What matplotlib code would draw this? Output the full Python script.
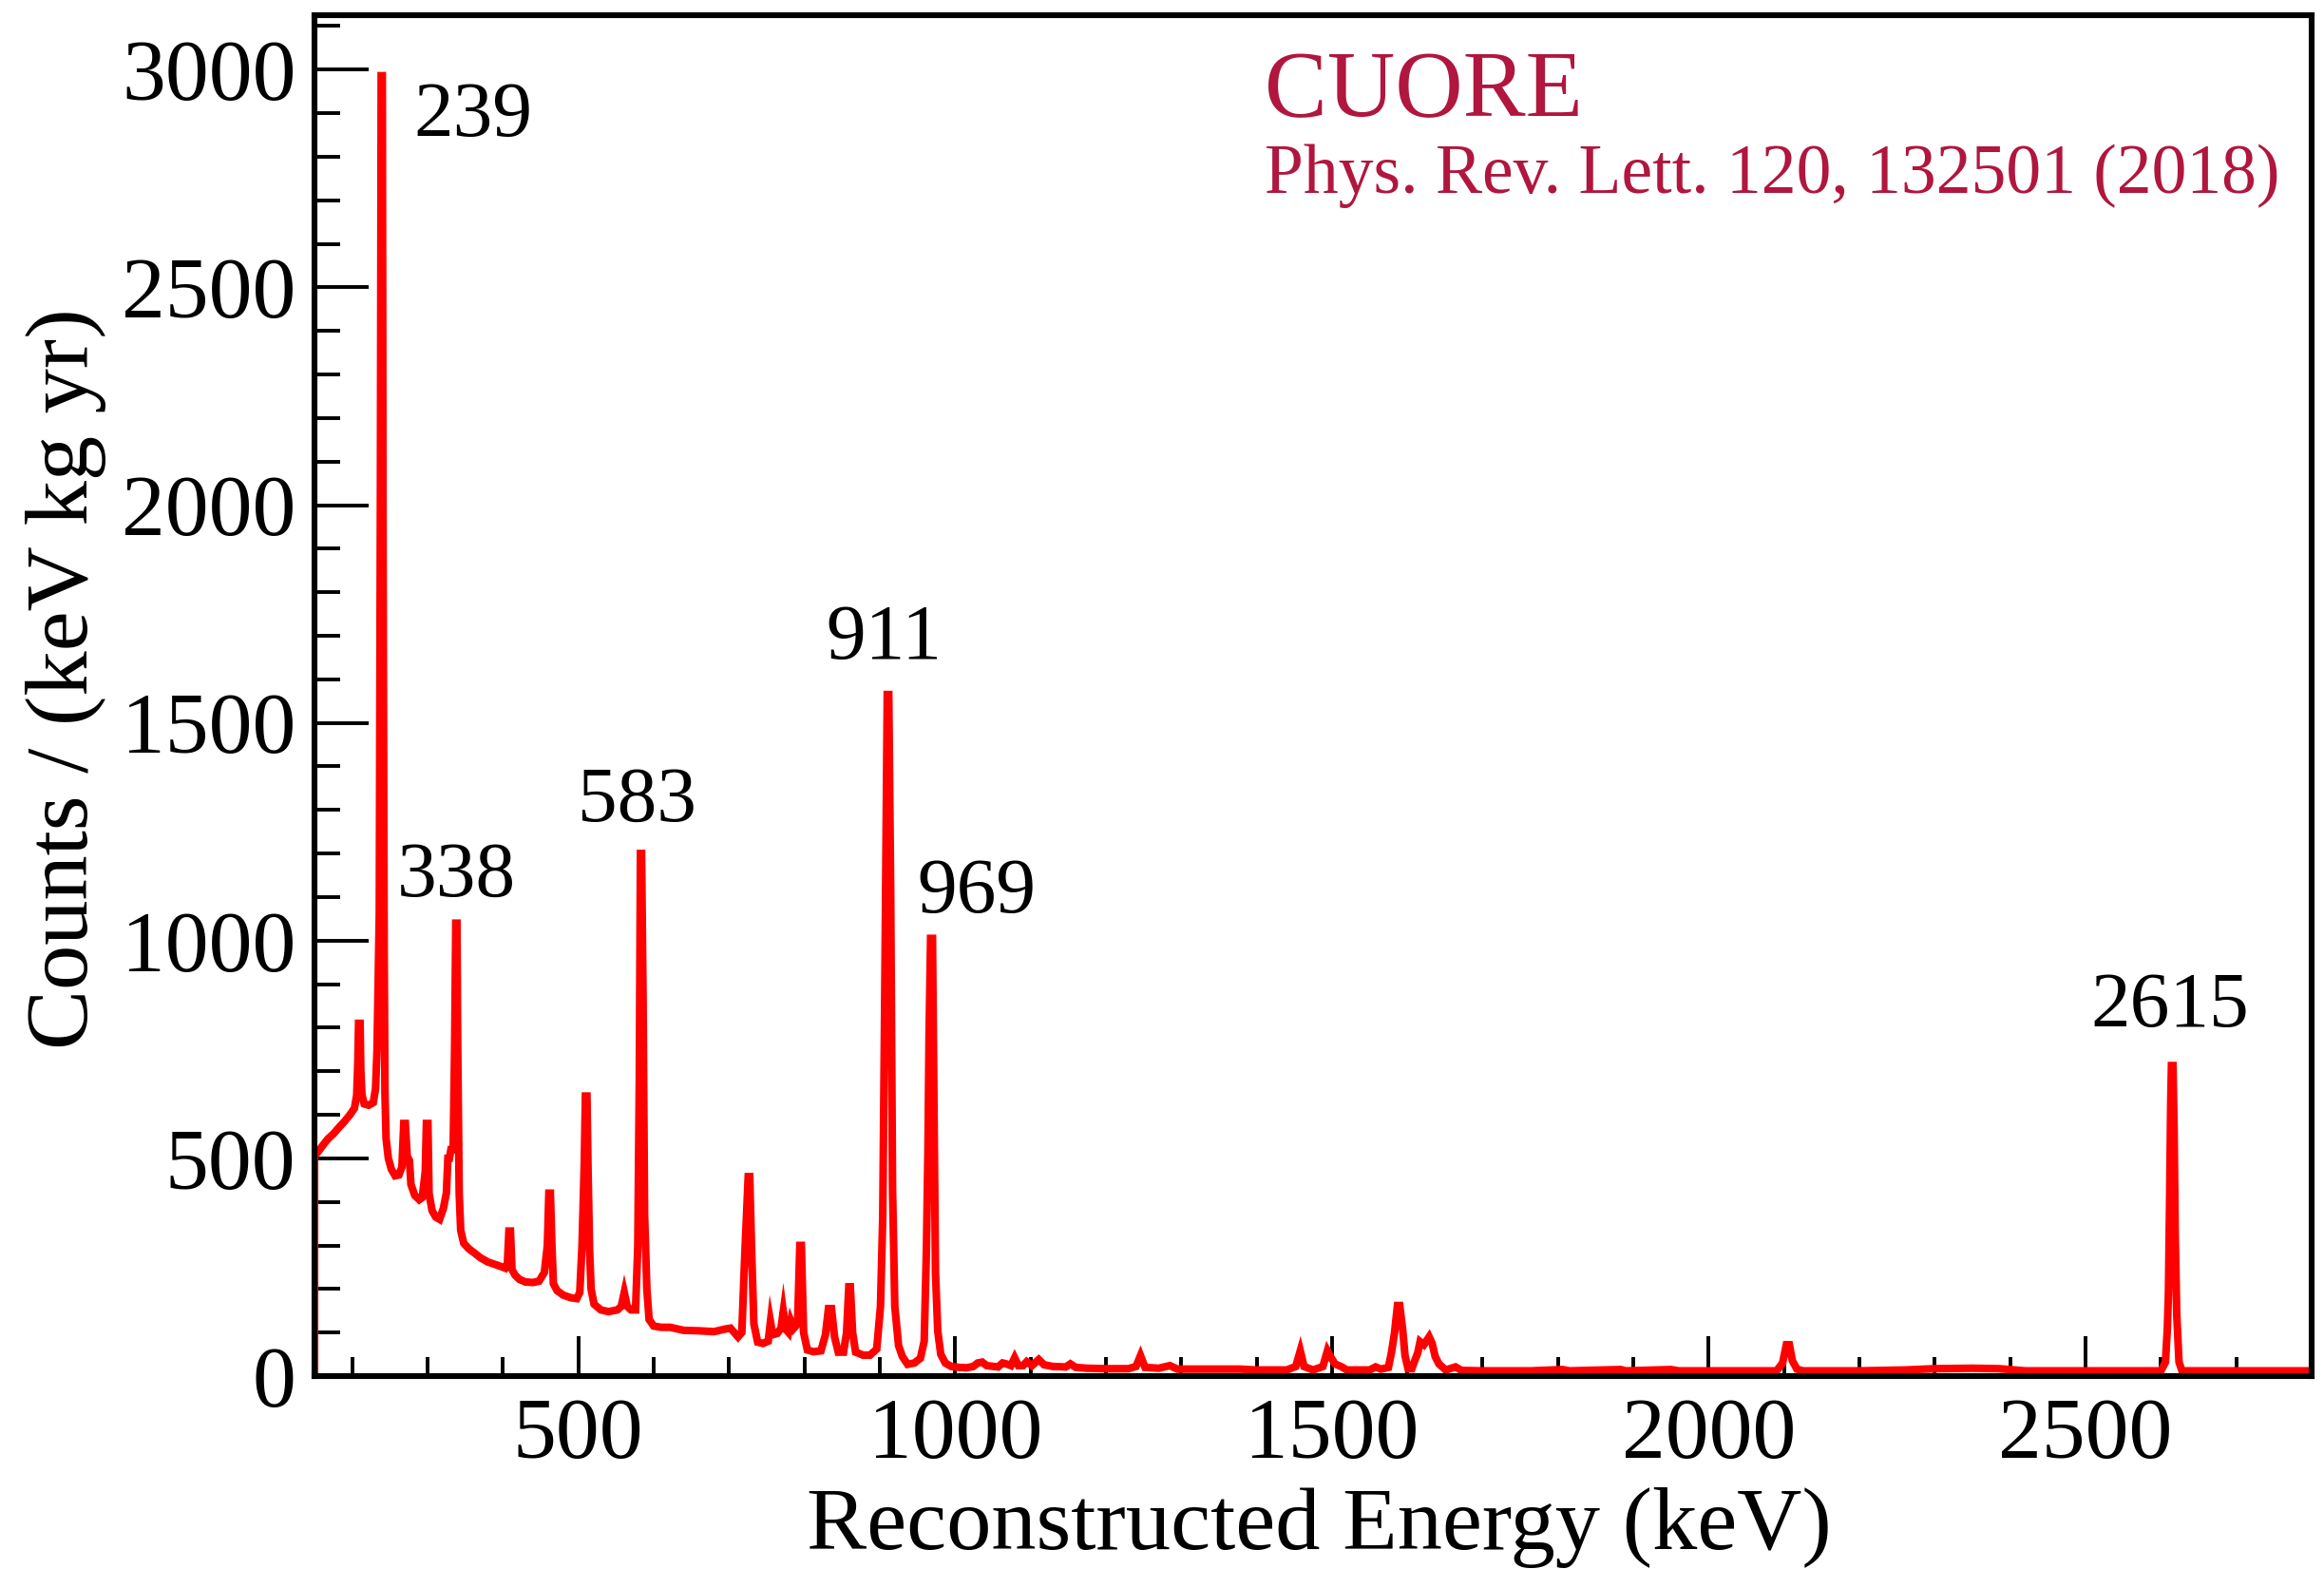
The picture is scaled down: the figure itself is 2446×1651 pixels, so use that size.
import matplotlib
matplotlib.use('Agg')
import matplotlib.pyplot as plt
from matplotlib.ticker import MultipleLocator

plt.rcParams['font.family'] = ['Liberation Serif', 'DejaVu Serif']

# spectrum: energy (keV), counts / (keV kg yr)
energy = [150, 150, 156, 162, 168, 175, 182, 190, 197, 203, 206, 207.5, 208.5, 210.5, 211.5, 213,
          216, 222, 228, 231, 233, 236, 237.5, 238.5, 240, 241, 242.5, 243.5, 245, 248, 252,
          257, 262, 266, 268.5, 270.5, 273, 276, 278, 283, 289, 293, 297, 298.5, 300.5, 302,
          306, 311, 316, 321, 325, 327, 329, 331, 334, 336, 337.5, 339, 340, 342, 344, 348,
          355, 362, 370, 380, 392, 403, 406, 408, 410, 412, 416, 422, 430, 440, 448, 455,
          459, 461, 463, 465, 467, 472, 480, 490, 498, 502, 505, 508, 509.5, 511.5, 513, 515,
          517, 521, 530, 540, 552, 557, 561, 565, 570, 576, 579, 581, 582.5, 584, 586, 588,
          591, 594, 600, 610, 622, 640, 660, 680, 695, 702, 708, 712, 717, 721, 725.5, 727.5,
          730, 733, 738, 745, 752, 755, 758, 764, 769, 772, 775, 779, 782, 786, 791, 794,
          796, 799, 804, 812, 822, 828, 832, 836, 840, 845, 852, 856, 859, 861, 864, 868,
          878, 887, 896, 901, 904, 907, 910, 912, 914.5, 917, 920, 925, 930, 937, 946, 954,
          959, 962, 964, 965.5, 967.5, 970, 972, 974, 977, 981, 987, 995, 1005, 1015, 1024,
          1030, 1036, 1042, 1057, 1063, 1068, 1074, 1079, 1084, 1090, 1095, 1102, 1111, 1118,
          1130, 1147, 1153, 1160, 1175, 1200, 1230, 1240, 1246, 1252, 1270, 1285, 1295, 1330,
          1378, 1400, 1440, 1452, 1458, 1463, 1475, 1488, 1494, 1498, 1504, 1512, 1520, 1550,
          1558, 1565, 1575, 1579, 1583, 1587, 1590, 1594, 1597, 1601, 1606, 1611, 1614, 1617,
          1622, 1629, 1633, 1637, 1642, 1651, 1664, 1672, 1700, 1764, 1806, 1815, 1883, 1890,
          1950, 1960, 2000, 2090, 2098, 2103, 2107, 2111, 2117, 2125, 2200, 2260, 2300, 2350,
          2385, 2420, 2600, 2606, 2608.5, 2610, 2611.5, 2613, 2614, 2616, 2617.5, 2619, 2621,
          2624, 2628, 2800]
counts = [0, 505, 518, 532, 545, 556, 570, 585, 600, 615, 645, 720, 810, 810, 700, 645,
          625, 622, 628, 660, 750, 1060, 2045, 2986, 2986, 1890, 970, 650, 545, 500, 475,
          460, 462, 480, 580, 580, 505, 495, 440, 415, 405, 410, 470, 580, 580, 420,
          380, 365, 360, 385, 420, 500, 500, 520, 520, 760, 1040, 1040, 760, 420, 335, 305,
          292, 283, 272, 262, 255, 248, 260, 333, 333, 245, 232, 222, 216, 215, 218, 238,
          300, 420, 420, 300, 212, 196, 186, 180, 178, 192, 300, 490, 643, 643, 470, 290,
          200, 165, 152, 148, 152, 160, 192, 160, 152, 152, 300, 680, 1200, 1200, 860, 370,
          200, 130, 115, 112, 112, 105, 104, 102, 108, 110, 98, 90, 100, 280, 458, 458,
          290, 120, 78, 75, 80, 125, 95, 98, 110, 148, 108, 100, 127, 110, 120, 300,
          300, 100, 60, 56, 58, 95, 155, 155, 90, 55, 55, 100, 205, 205, 100, 55,
          48, 48, 62, 160, 366, 940, 1565, 1565, 1117, 430, 160, 70, 45, 27, 30, 41,
          80, 293, 520, 786, 1005, 1005, 624, 237, 103, 50, 30, 22, 20, 19, 22,
          30, 32, 24, 21, 30, 28, 24, 42, 24, 24, 33, 24, 38, 26,
          22, 21, 28, 20, 18, 17, 17, 22, 47, 20, 18, 24, 16, 16,
          16, 14, 14, 22, 58, 22, 14, 22, 58, 45, 28, 22, 14, 14,
          21, 16, 20, 54, 98, 162, 162, 105, 47, 17, 17, 40, 54, 79,
          72, 90, 75, 45, 28, 14, 21, 13, 12, 12, 15, 12, 15, 12,
          15, 12, 12, 12, 30, 72, 72, 35, 16, 12, 12, 14, 17, 18,
          17, 12, 12, 32, 108, 192, 396, 626, 713, 713, 567, 320, 141,
          32, 12, 12]

# peak labels: text, energy of label centre, counts at label baseline
peak_text = ['239', '338', '583', '911', '969', '2615']
peak_x = [360, 338, 578, 906, 1028, 2612]
peak_y = [2848, 1103, 1275, 1648, 1066, 804]

x_range = (150, 2800)
y_range = (0, 3125)

cuore_red = '#b0163e'

fig = plt.figure(figsize=(12.23, 8.255), dpi=200)
ax = fig.add_axes([331 / 2446, 1 - 1448 / 1651, (2433 - 331) / 2446, (1448 - 16) / 1651])

ax.plot(energy, counts, color='#ff0000', lw=2.9, solid_joinstyle='miter')

for t, x, y in zip(peak_text, peak_x, peak_y):
    ax.text(x, y, t, ha='center', va='baseline', fontsize=30)

ax.set_xlim(*x_range)
ax.set_ylim(*y_range)

ax.xaxis.set_major_locator(MultipleLocator(500))
ax.xaxis.set_minor_locator(MultipleLocator(100))
ax.yaxis.set_major_locator(MultipleLocator(500))
ax.yaxis.set_minor_locator(MultipleLocator(100))

ax.tick_params(which='both', direction='in', top=False, right=False, width=1.4, labelsize=33)
ax.tick_params(axis='x', which='major', length=15, pad=8)
ax.tick_params(axis='x', which='minor', length=7.2)
ax.tick_params(axis='y', which='major', length=20.5, pad=7)
ax.tick_params(axis='y', which='minor', length=9.7)

for s in ax.spines.values():
    s.set_linewidth(2.2)

fig.text(1388 / 2446, 1 - 1630 / 1651, 'Reconstructed Energy (keV)', ha='center', va='baseline', fontsize=34)
fig.text(70 / 2446, 1 - 714 / 1651, 'Counts / (keV kg yr)', ha='center', va='center', rotation=90, fontsize=34)

fig.text(1331 / 2446, 1 - 122 / 1651, 'CUORE', ha='left', va='baseline', fontsize=35.6, color=cuore_red)
fig.text(1331 / 2446, 1 - 203 / 1651, 'Phys. Rev. Lett. 120, 132501 (2018)', ha='left', va='baseline',
         fontsize=26.5, color=cuore_red)

fig.savefig('out.png', dpi=200)
